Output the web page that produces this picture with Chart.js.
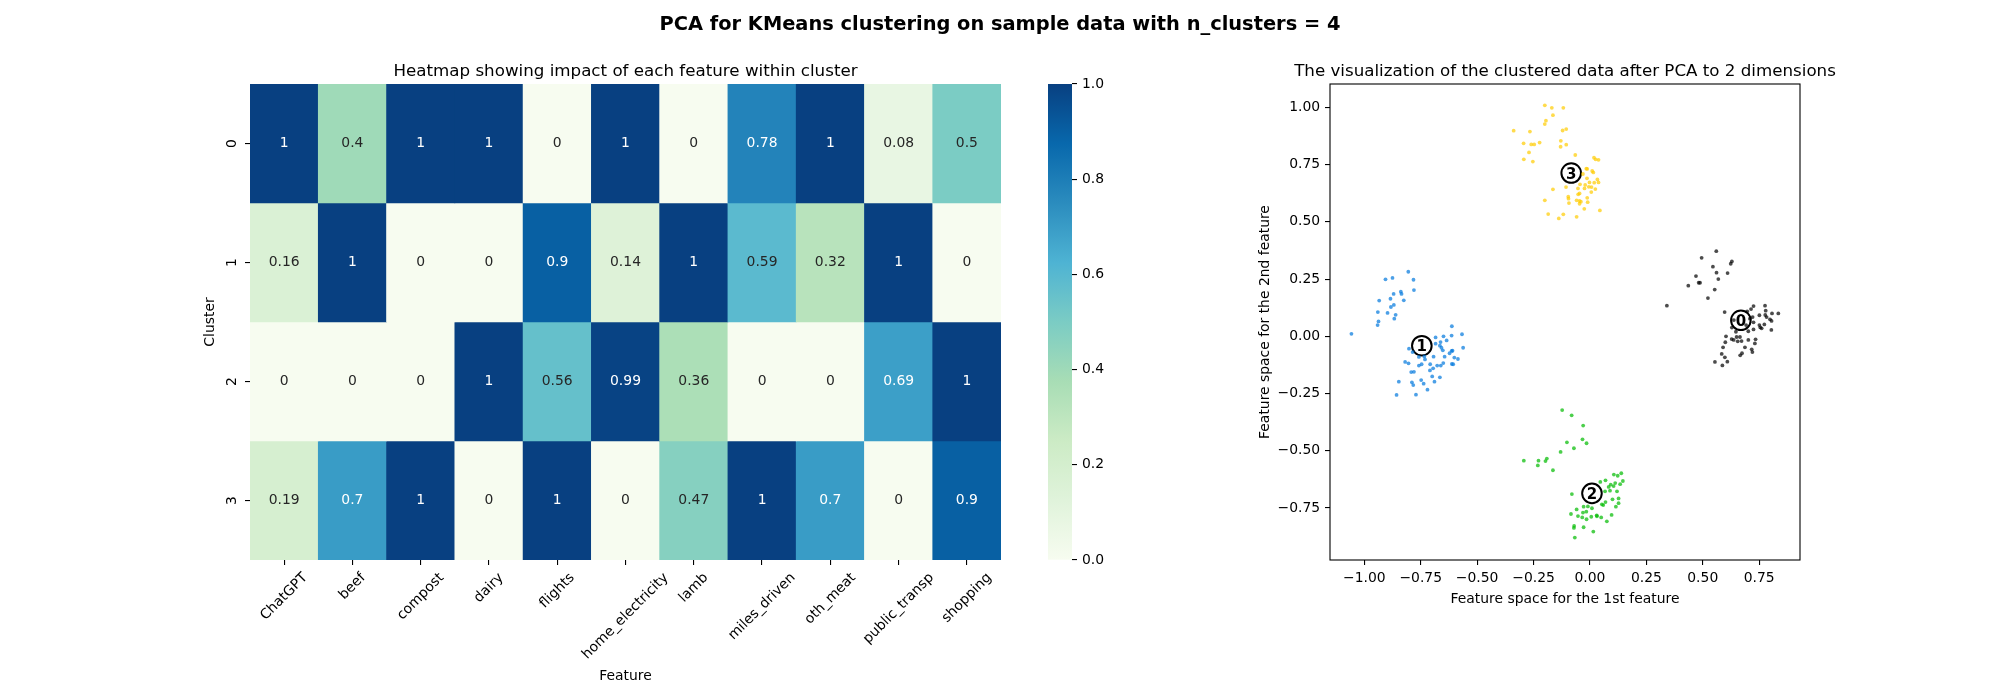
<!DOCTYPE html>
<html><head><meta charset="utf-8">
<script src="https://cdn.jsdelivr.net/npm/chart.js@4.4.1/dist/chart.umd.min.js"></script>
<style>
html,body{margin:0;padding:0;background:#fff;}
#wrap{position:relative;width:2000px;height:700px;overflow:hidden;background:#fff;}
canvas{position:absolute;left:0;top:0;}
</style></head><body>
<div id="wrap">
<canvas id="heat" width="2000" height="700"></canvas>
<canvas id="cbar" width="2000" height="700"></canvas>
<canvas id="scat" width="2000" height="700"></canvas>
</div>
<script>
const FONT = "'DejaVu Sans', 'Liberation Sans', sans-serif";
const suptitle = 'PCA for KMeans clustering on sample data with n_clusters = 4';
const heatTitle = 'Heatmap showing impact of each feature within cluster';
const scatTitle = 'The visualization of the clustered data after PCA to 2 dimensions';

// ---- heatmap data ----
const features = ['ChatGPT','beef','compost','dairy','flights','home_electricity','lamb','miles_driven','oth_meat','public_transp','shopping'];
const clusterLabels = ['0','1','2','3'];
const impact0 = [1, 0.4, 1, 1, 0, 1, 0, 0.78, 1, 0.08, 0.5];
const impact1 = [0.16, 1, 0, 0, 0.9, 0.14, 1, 0.59, 0.32, 1, 0];
const impact2 = [0, 0, 0, 1, 0.56, 0.99, 0.36, 0, 0, 0.69, 1];
const impact3 = [0.19, 0.7, 1, 0, 1, 0, 0.47, 1, 0.7, 0, 0.9];
const colorbarTicks = [0, 0.2, 0.4, 0.6, 0.8, 1.0];

// ---- PCA scatter data ----
const pcaXTicks = [-1, -0.75, -0.5, -0.25, 0, 0.25, 0.5, 0.75];
const pcaYTicks = [-0.75, -0.5, -0.25, 0, 0.25, 0.5, 0.75, 1.0];
const pcaXLimits = [-1.152, 0.931];
const pcaYLimits = [-0.977, 1.102];

const cluster0X = [0.560,0.495,0.629,0.624,0.545,0.561,0.610,0.470,0.569,0.482,0.488,0.436,0.553,0.523,0.341,0.597,0.776,0.725,0.714,0.779,0.697,0.807,0.835,0.777,0.751,0.721,0.783,0.805,0.798,0.709,0.638,0.629,0.725,0.692,0.751,0.773,0.755,0.761,0.804,0.725,0.647,0.702,0.603,0.650,0.665,0.628,0.637,0.655,0.672,0.702,0.734,0.600,0.731,0.687,0.590,0.717,0.720,0.674,0.666,0.584,0.598,0.609,0.554,0.587];
const cluster0Y = [0.372,0.343,0.327,0.317,0.304,0.278,0.276,0.263,0.250,0.234,0.234,0.221,0.204,0.167,0.134,0.106,0.134,0.132,0.119,0.112,0.109,0.100,0.100,0.093,0.092,0.084,0.084,0.067,0.074,0.077,0.071,0.038,0.061,0.049,0.049,0.052,0.039,0.035,0.028,0.030,0.020,0.022,0.000,-0.003,-0.003,-0.012,-0.016,-0.022,-0.021,-0.016,-0.013,-0.026,-0.031,-0.048,-0.048,-0.057,-0.069,-0.074,-0.083,-0.077,-0.092,-0.111,-0.112,-0.127];

const cluster1X = [-0.805,-0.906,-0.875,-0.782,-0.780,-0.838,-0.835,-0.870,-0.884,-0.825,-0.934,-0.869,-0.882,-0.940,-0.897,-0.861,-0.867,-0.937,-0.941,-1.057,
  -0.612,-0.567,-0.684,-0.649,-0.613,-0.635,-0.662,-0.684,-0.665,-0.562,-0.658,-0.802,-0.609,-0.652,-0.786,-0.613,-0.622,-0.693,-0.644,-0.601,-0.585,-0.758,-0.734,-0.731,-0.819,-0.804,-0.746,-0.758,-0.708,-0.677,-0.661,-0.650,-0.606,-0.612,-0.695,-0.709,-0.780,-0.792,-0.699,-0.665,-0.748,-0.847,-0.789,-0.783,-0.737,-0.689,-0.720,-0.857,-0.771];
const cluster1Y = [0.282,0.249,0.255,0.247,0.202,0.195,0.185,0.185,0.164,0.157,0.156,0.137,0.128,0.106,0.102,0.094,0.077,0.065,0.049,0.011,
  0.044,0.009,-0.005,0.000,0.003,-0.018,-0.025,-0.032,-0.041,-0.050,-0.050,-0.054,-0.063,-0.061,-0.069,-0.064,-0.074,-0.089,-0.089,-0.093,-0.099,-0.090,-0.088,-0.101,-0.112,-0.118,-0.122,-0.128,-0.122,-0.128,-0.128,-0.117,-0.122,-0.121,-0.140,-0.149,-0.155,-0.156,-0.175,-0.179,-0.191,-0.198,-0.201,-0.213,-0.207,-0.198,-0.233,-0.256,-0.255];

const cluster2X = [-0.123,-0.081,-0.030,-0.033,-0.015,-0.102,-0.071,-0.130,-0.293,-0.228,-0.191,-0.197,-0.231,-0.164,0.139,0.106,0.123,0.069,0.046,0.092,0.146,0.112,0.134,0.105,0.083,-0.080,0.067,0.089,0.120,0.127,0.100,0.069,0.053,0.059,0.115,0.127,-0.028,-0.009,0.009,-0.059,-0.016,-0.031,-0.084,-0.053,0.030,0.050,0.096,-0.034,-0.015,0.006,0.075,-0.070,-0.071,-0.028,0.015,-0.067,0.031];
const cluster2Y = [-0.322,-0.345,-0.390,-0.450,-0.467,-0.463,-0.489,-0.505,-0.543,-0.543,-0.534,-0.545,-0.564,-0.585,-0.598,-0.604,-0.609,-0.629,-0.636,-0.648,-0.632,-0.641,-0.646,-0.654,-0.658,-0.689,-0.677,-0.674,-0.677,-0.708,-0.712,-0.724,-0.734,-0.737,-0.744,-0.729,-0.744,-0.743,-0.751,-0.756,-0.766,-0.770,-0.776,-0.785,-0.782,-0.791,-0.780,-0.791,-0.799,-0.788,-0.808,-0.828,-0.837,-0.834,-0.853,-0.879,-0.786];

const cluster3X = [-0.200,-0.169,-0.118,-0.164,-0.195,-0.200,-0.105,-0.121,-0.338,-0.266,-0.294,-0.260,-0.247,-0.223,-0.129,-0.105,-0.130,-0.270,-0.065,-0.293,-0.253,0.018,0.025,0.038,-0.016,-0.012,0.010,-0.031,0.015,-0.013,0.033,0.038,-0.002,0.019,-0.044,-0.021,-0.005,-0.053,0.007,-0.106,0.024,-0.024,-0.164,0.006,-0.046,-0.052,-0.096,-0.012,-0.095,-0.059,-0.046,-0.040,-0.093,-0.046,-0.010,-0.200,-0.025,0.044,-0.185,-0.118,-0.138,-0.059];
const cluster3Y = [1.009,0.998,0.998,0.966,0.942,0.927,0.905,0.899,0.898,0.894,0.843,0.838,0.838,0.846,0.854,0.837,0.828,0.803,0.792,0.773,0.763,0.780,0.773,0.771,0.732,0.731,0.722,0.709,0.716,0.690,0.685,0.672,0.672,0.671,0.664,0.661,0.653,0.646,0.652,0.652,0.643,0.646,0.642,0.630,0.624,0.620,0.610,0.605,0.601,0.594,0.591,0.588,0.582,0.579,0.586,0.594,0.557,0.550,0.534,0.533,0.515,0.522];

const centroidX = [0.669, -0.745, 0.009, -0.083];
const centroidY = [0.070, -0.041, -0.686, 0.713];

// ---- helpers ----
Chart.defaults.color = '#000';
Chart.defaults.font.family = FONT;
const GnBu = [[247,252,240],[224,243,219],[204,235,197],[168,221,181],[123,204,196],[78,179,211],[43,140,190],[8,104,172],[8,64,129]];
function cmap(t){
  t = Math.max(0, Math.min(1, t));
  const s = t*(GnBu.length-1);
  const i = Math.min(Math.floor(s), GnBu.length-2);
  const f = s - i, a = GnBu[i], b = GnBu[i+1];
  return [a[0]+(b[0]-a[0])*f, a[1]+(b[1]-a[1])*f, a[2]+(b[2]-a[2])*f];
}
const rgbStr = c => `rgb(${Math.round(c[0])},${Math.round(c[1])},${Math.round(c[2])})`;
function lum(c){
  const l = c.map(v => { v /= 255; return v <= 0.03928 ? v/12.92 : Math.pow((v+0.055)/1.055, 2.4); });
  return 0.2126*l[0] + 0.7152*l[1] + 0.0722*l[2];
}
const fmt2g = v => String(parseFloat(v.toPrecision(2)));
const fmtTick = v => (v < 0 ? '\u2212' : '') + Math.abs(v).toFixed(2);
const TICKFONT = {family: FONT, size: 13.9};
const tickGrid = {display: true, drawOnChartArea: false, drawTicks: true, tickLength: 5, color: '#000', lineWidth: 1.1};

// ---- heatmap ----
const impactRows = [impact0, impact1, impact2, impact3];
const heatDatasets = impactRows.map((row, r) => ({
  label: 'Cluster ' + clusterLabels[r],
  data: row.map(() => [r, r + 1]),
  backgroundColor: row.map(v => rgbStr(cmap(v))),
  borderWidth: 0,
  barPercentage: 1,
  categoryPercentage: 1,
  grouped: false
}));

const heatText = {
  id: 'heatText',
  afterDraw(chart){
    const ctx = chart.ctx, xs = chart.scales.x, ys = chart.scales.y, area = chart.chartArea;
    ctx.save();
    ctx.font = `13.9px ${FONT}`;
    ctx.textAlign = 'center';
    ctx.textBaseline = 'middle';
    impactRows.forEach((row, r) => row.forEach((v, c) => {
      ctx.fillStyle = lum(cmap(v)) > 0.408 ? '#262626' : '#ffffff';
      ctx.fillText(fmt2g(v), xs.getPixelForValue(c), ys.getPixelForValue(r + 0.5));
    }));
    ctx.fillStyle = '#000';
    const top = area.bottom + 5 + 4.9, h = 16;
    let maxBottom = top;
    features.forEach((f, c) => {
      const w = ctx.measureText(f).width;
      const bh = (w + h) * Math.SQRT1_2;
      ctx.save();
      ctx.translate(xs.getPixelForValue(c), top + bh/2);
      ctx.rotate(-Math.PI/4);
      ctx.fillText(f, 0, 0);
      ctx.restore();
      maxBottom = Math.max(maxBottom, top + bh);
    });
    clusterLabels.forEach((l, r) => {
      ctx.save();
      ctx.translate(area.left - 5 - 4.9 - h/2, ys.getPixelForValue(r + 0.5));
      ctx.rotate(-Math.PI/2);
      ctx.fillText(l, 0, 0);
      ctx.restore();
    });
    ctx.fillText('Feature', (area.left + area.right)/2, maxBottom + 5.6 + 8);
    ctx.save();
    ctx.translate(area.left - 5 - 4.9 - h - 5.6 - 8.3, (area.top + area.bottom)/2);
    ctx.rotate(-Math.PI/2);
    ctx.fillText('Cluster', 0, 0);
    ctx.restore();
    ctx.textBaseline = 'alphabetic';
    ctx.font = `16.7px ${FONT}`;
    ctx.fillText(heatTitle, (area.left + area.right)/2, area.top - 8.3);
    ctx.font = `bold 19.4px ${FONT}`;
    ctx.fillText(suptitle, 1000, 29.5);
    ctx.restore();
  }
};

new Chart(document.getElementById('heat'), {
  type: 'bar',
  data: {labels: features, datasets: heatDatasets},
  options: {
    responsive: false, animation: false, events: [],
    layout: {padding: {left: 100, top: 84, right: 999, bottom: 0}},
    plugins: {legend: {display: false}, tooltip: {enabled: false}, title: {display: false}},
    scales: {
      x: {type: 'category', offset: true, ticks: {display: false},
          grid: Object.assign({}, tickGrid, {offset: false}), border: {display: false},
          afterFit(s){ s.height = 140; }},
      y: {type: 'linear', min: 0, max: 4, reverse: true, bounds: 'data',
          ticks: {display: false}, grid: tickGrid, border: {display: false},
          afterBuildTicks(s){ s.ticks = clusterLabels.map((_, i) => ({value: i + 0.5})); },
          afterFit(s){ s.width = 150; }}
    }
  },
  plugins: [heatText]
});

// ---- colorbar ----
new Chart(document.getElementById('cbar'), {
  type: 'bar',
  data: {labels: ['scale'], datasets: [{
    data: [[colorbarTicks[0], colorbarTicks[colorbarTicks.length - 1]]],
    backgroundColor(context){
      const chart = context.chart, area = chart.chartArea;
      if (!area) return rgbStr(GnBu[0]);
      const y0 = chart.scales.y.getPixelForValue(0), y1 = chart.scales.y.getPixelForValue(1);
      const g = chart.ctx.createLinearGradient(0, y0, 0, y1);
      GnBu.forEach((c, i) => g.addColorStop(i/(GnBu.length - 1), rgbStr(c)));
      return g;
    },
    borderWidth: 0, barPercentage: 1, categoryPercentage: 1
  }]},
  options: {
    responsive: false, animation: false, events: [],
    layout: {padding: {left: 1048, top: 84, right: 860, bottom: 140}},
    plugins: {legend: {display: false}, tooltip: {enabled: false}},
    scales: {
      x: {display: false},
      y: {position: 'right', min: 0, max: 1, bounds: 'data',
          afterBuildTicks(s){ s.ticks = colorbarTicks.map(v => ({value: v})); },
          ticks: {callback: v => Number(v).toFixed(1), padding: 4.9, font: TICKFONT, color: '#000'},
          grid: tickGrid, border: {display: false},
          afterFit(s){ s.width = 68; }}
    }
  }
});

// ---- scatter ----
const clusterColors = ['rgba(0,0,0,0.7)', 'rgba(0,119,221,0.7)', 'rgba(0,187,0,0.7)', 'rgba(255,204,0,0.7)'];
const clusters = [[cluster0X, cluster0Y], [cluster1X, cluster1Y], [cluster2X, cluster2Y], [cluster3X, cluster3Y]];
const scatDatasets = clusters.map(([xs, ys], i) => ({
  label: 'Cluster ' + i,
  data: xs.map((x, j) => ({x: x, y: ys[j]})),
  pointRadius: 1.9, pointHoverRadius: 1.9, pointBorderWidth: 0,
  pointBackgroundColor: clusterColors[i], showLine: false
}));
scatDatasets.push({
  label: 'Centers',
  data: centroidX.map((x, i) => ({x: x, y: centroidY[i]})),
  pointRadius: 9.8, pointHoverRadius: 9.8, pointBorderWidth: 2,
  pointBackgroundColor: '#ffffff', pointBorderColor: '#000000', showLine: false
});

const scatDeco = {
  id: 'scatDeco',
  afterDraw(chart){
    const ctx = chart.ctx, xs = chart.scales.x, ys = chart.scales.y, area = chart.chartArea;
    ctx.save();
    ctx.fillStyle = '#000';
    ctx.textAlign = 'center';
    ctx.textBaseline = 'alphabetic';
    ctx.font = `bold 15px ${FONT}`;
    centroidX.forEach((x, i) => {
      ctx.fillText(String(i), xs.getPixelForValue(x), ys.getPixelForValue(centroidY[i]) + 5.5);
    });
    ctx.strokeStyle = '#000';
    ctx.lineWidth = 1.1;
    ctx.strokeRect(area.left, area.top, area.right - area.left, area.bottom - area.top);
    ctx.font = `16.7px ${FONT}`;
    ctx.fillText(scatTitle, (area.left + area.right)/2, area.top - 8.3);
    ctx.restore();
  }
};

new Chart(document.getElementById('scat'), {
  type: 'scatter',
  data: {datasets: scatDatasets},
  options: {
    responsive: false, animation: false, events: [],
    layout: {padding: {left: 1256, top: 84, right: 200, bottom: 90}},
    plugins: {legend: {display: false}, tooltip: {enabled: false}},
    scales: {
      x: {type: 'linear', min: pcaXLimits[0], max: pcaXLimits[1], bounds: 'data',
          afterBuildTicks(s){ s.ticks = pcaXTicks.map(v => ({value: v})); },
          ticks: {callback: v => fmtTick(v), font: TICKFONT, color: '#000', padding: 4.9, maxRotation: 0, autoSkip: false},
          grid: tickGrid, border: {display: false},
          title: {display: true, text: 'Feature space for the 1st feature', font: TICKFONT, color: '#000', padding: {top: 0, bottom: 2.7}},
          afterFit(s){ s.height = 50; }},
      y: {type: 'linear', min: pcaYLimits[0], max: pcaYLimits[1], bounds: 'data',
          afterBuildTicks(s){ s.ticks = pcaYTicks.map(v => ({value: v})); },
          ticks: {callback: v => fmtTick(v), font: TICKFONT, color: '#000', padding: 4.9, autoSkip: false},
          grid: tickGrid, border: {display: false},
          title: {display: true, text: 'Feature space for the 2nd feature', font: TICKFONT, color: '#000', padding: {top: 0.7, bottom: 0}},
          afterFit(s){ s.width = 74; }}
    }
  },
  plugins: [scatDeco]
});
</script>
</body></html>
